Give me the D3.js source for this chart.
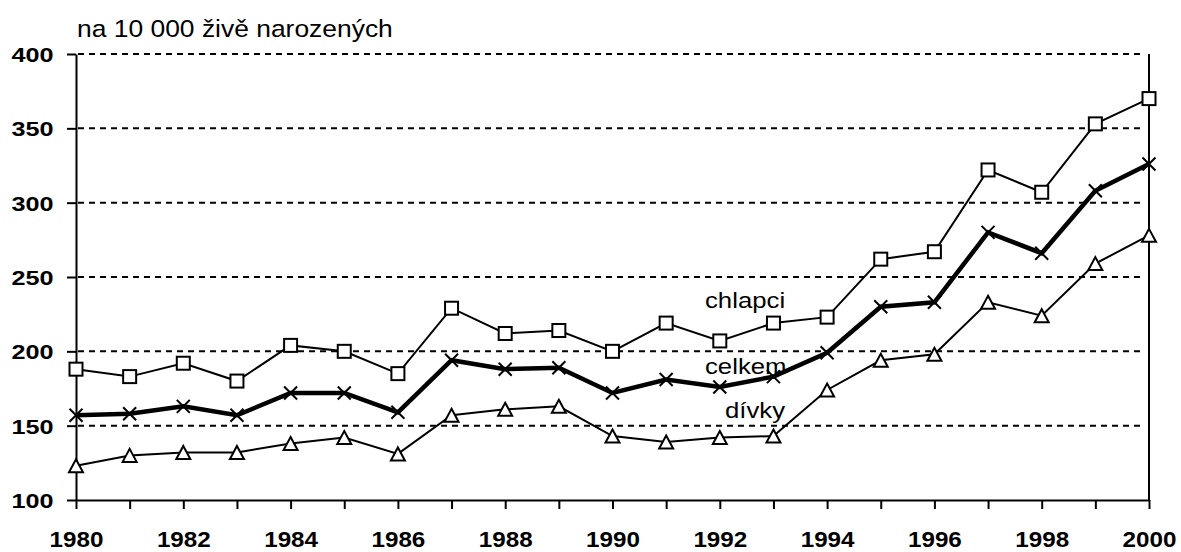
<!DOCTYPE html>
<html><head><meta charset="utf-8">
<script src="https://cdn.jsdelivr.net/npm/d3@7"></script>
<style>
body{margin:0;background:#fff;}
text{font-family:Arial,"Liberation Sans",sans-serif;fill:#000;}
</style></head>
<body>
<svg id="c" width="1181" height="552"></svg>
<script>
const years = d3.range(1980, 2001);
const chlapci = [188,183,192,180,204,200,185,229,212,214,200,219,207,219,223,262,267,322,307,353,370];
const celkem  = [157,158,163,157,172,172,159,194,188,189,172,181,176,183,199,230,233,280,266,308,326];
const divky   = [123,130,132,132,138,142,131,157,161,163,143,139,142,143,174,194,198,233,224,259,278];
const yTicks = [100,150,200,250,300,350,400];
const xLabelYears = [1980,1982,1984,1986,1988,1990,1992,1994,1996,1998,2000];
const unitLabel = "na 10 000 živě narozených";
const seriesLabels = ["chlapci","celkem","dívky"];

const svg = d3.select("#c");
const L = 76, R = 1149, T = 54, B = 500;
const x = d3.scaleLinear().domain([1980,2000]).range([L,R]);
const y = d3.scaleLinear().domain([100,400]).range([B,T]);

// gridlines
svg.append("g").selectAll("line").data(yTicks.filter(v=>v>100)).join("line")
  .attr("x1", L+2).attr("x2", R-7)
  .attr("y1", d=>y(d)).attr("y2", d=>y(d))
  .attr("stroke","#000").attr("stroke-width",2).attr("stroke-dasharray","6,5");

// y axis
const ya = svg.append("g").attr("transform",`translate(${L},0)`)
  .call(d3.axisLeft(y).tickValues(yTicks).tickSize(9).tickSizeOuter(0));
ya.select(".domain").attr("stroke-width",2);
ya.selectAll(".tick line").attr("stroke-width",2);
ya.selectAll(".tick text").attr("x",null).attr("dy",null)
  .attr("transform","translate(-22.5,7.5) scale(1.2,1)")
  .style("font-size","21px").style("font-weight","bold")
  .style("font-family",'Arial,"Liberation Sans",sans-serif');

// x axis
const xa = svg.append("g").attr("transform",`translate(0,${B})`)
  .call(d3.axisBottom(x).tickValues(years).tickSize(9).tickSizeOuter(0)
    .tickFormat(d => xLabelYears.includes(d) ? String(d) : ""));
xa.select(".domain").attr("stroke-width",2);
xa.selectAll(".tick line").attr("stroke-width",2);
xa.selectAll(".tick text").attr("y",null).attr("dy",null)
  .attr("transform","translate(0,46.5) scale(1.1,1)")
  .style("font-size","22px").style("font-weight","bold")
  .style("font-family",'Arial,"Liberation Sans",sans-serif');

// right axis line
svg.append("line").attr("x1",R).attr("x2",R).attr("y1",y(400)).attr("y2",y(100))
  .attr("stroke","#000").attr("stroke-width",2);

// title
svg.append("text").attr("transform","translate(77,36.5) scale(1.12,1)")
  .style("font-size","23.6px").text(unitLabel);

const line = d3.line().x((d,i)=>x(years[i])).y(d=>y(d));

function drawSeries(data, width, marker){
  svg.append("path").datum(data).attr("d",line)
    .attr("fill","none").attr("stroke","#000").attr("stroke-width",width)
    .attr("stroke-linejoin","miter");
  const g = svg.append("g");
  const pts = g.selectAll("g").data(data).join("g")
    .attr("transform",(d,i)=>`translate(${x(years[i])},${y(d)})`);
  if(marker==="square"){
    pts.append("rect").attr("x",-6.5).attr("y",-6.5).attr("width",13).attr("height",13)
      .attr("fill","#fff").attr("stroke","#000").attr("stroke-width",2);
  } else if(marker==="triangle"){
    pts.append("path").attr("d","M0,-6.5L7,6.5L-7,6.5Z")
      .attr("fill","#fff").attr("stroke","#000").attr("stroke-width",2);
  } else {
    pts.append("path").attr("d","M-6.5,-6.5L6.5,6.5M-6.5,6.5L6.5,-6.5")
      .attr("fill","none").attr("stroke","#000").attr("stroke-width",2);
  }
}
drawSeries(chlapci, 2, "square");
drawSeries(celkem, 4.5, "x");
drawSeries(divky, 2, "triangle");

// series labels
const labelPos = [[705,308],[705,374],[725,418]];
seriesLabels.forEach((s,i)=>{
  svg.append("text").attr("transform",`translate(${labelPos[i][0]},${labelPos[i][1]}) scale(1.12,1)`)
    .style("font-size","23px").text(s);
});
</script>
</body></html>
